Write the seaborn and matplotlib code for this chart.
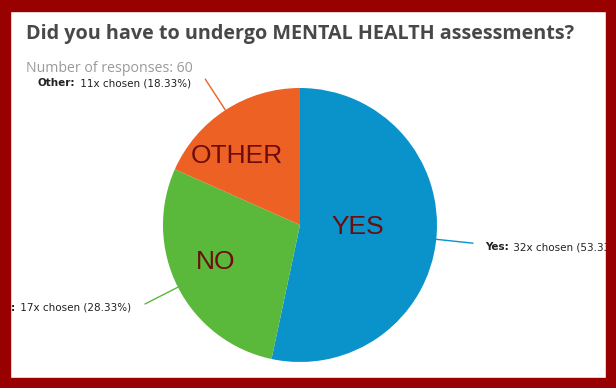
import numpy as np
import matplotlib
matplotlib.use("Agg")
import matplotlib.pyplot as plt
import seaborn as sns
from matplotlib.patches import Rectangle

sns.set_theme(style="white")
plt.rcParams['font.family'] = ['Open Sans', 'DejaVu Sans']

# data
answers = ['Yes', 'No', 'Other']
inner_names = ['YES', 'NO', 'OTHER']
counts = [32, 17, 11]
total = 60
title = "Did you have to undergo MENTAL HEALTH assessments?"
subtitle = f"Number of responses: {total}"

colors = ['#0993CA', '#5AB83A', '#EE6125']
W, H = 616, 388
cx, cy, r = 300, 225, 137          # pie centre / radius in pixels (y from top)
inner_pos = [(58, 2), (-84, 37), (-63, -69)]   # inner label offsets (px)

fig = plt.figure(figsize=(W / 100, H / 100), dpi=100)
ax = fig.add_axes([0, 0, 1, 1])

def Y(y):
    return H - y

wedges, _ = ax.pie(counts, colors=colors, startangle=90, counterclock=False,
                   center=(cx, Y(cy)), radius=r, frame=True,
                   wedgeprops=dict(linewidth=0))
ax.set_xlim(0, W)
ax.set_ylim(0, H)
ax.set_aspect('auto')
ax.axis('off')

renderer = fig.canvas.get_renderer()
lab_kw = dict(va='center', fontsize=7.5, color='#222222', family='DejaVu Sans',
              clip_on=False)

for w, name, cnt, col, (dx, dy), inner in zip(wedges, answers, counts, colors,
                                              inner_pos, inner_names):
    mid = np.deg2rad((w.theta1 + w.theta2) / 2)
    ux, uy = np.cos(mid), np.sin(mid)
    x0, y0 = cx + r * ux, Y(cy) + r * uy
    x1, y1 = cx + 1.27 * r * ux, Y(cy) + 1.27 * r * uy
    ax.plot([x0, x1], [y0, y1], color=col, lw=1, solid_capstyle='round')
    pct = cnt / total * 100
    bold = f"{name}:"
    rest = f" {cnt}x chosen ({pct:.2f}%)"
    ty = y1 - 4
    if ux > 0:
        t1 = ax.text(x1 + 12, ty, bold, ha='left', fontweight='bold', **lab_kw)
        wb = t1.get_window_extent(renderer).width
        ax.text(x1 + 13 + wb, ty, rest, ha='left', **lab_kw)
    else:
        t2 = ax.text(x1 - 14, ty, rest, ha='right', **lab_kw)
        wr = t2.get_window_extent(renderer).width
        ax.text(x1 - 16 - wr, ty, bold, ha='right', fontweight='bold', **lab_kw)
    ax.text(cx + dx, Y(cy + dy), inner, ha='center', va='center',
            fontsize=19, color='#6B0D0D', family='Liberation Sans')

fig.text(26 / W, Y(34) / H, title, fontsize=14.2, fontweight='bold',
         color='#484848', va='center', ha='left')
fig.text(26 / W, Y(69) / H, subtitle, fontsize=10.2, color='#9A9A9A',
         va='center', ha='left')

# dark red frame
b = 10
red = '#990000'
for rect in [(0, 0, W, b), (0, H - b - 1, W, b + 1), (0, 0, b, H), (W - b, 0, b, H)]:
    fig.patches.append(Rectangle((rect[0] / W, rect[1] / H), rect[2] / W, rect[3] / H,
                                 transform=fig.transFigure, color=red, zorder=10))

fig.savefig("out.png", dpi=100)
